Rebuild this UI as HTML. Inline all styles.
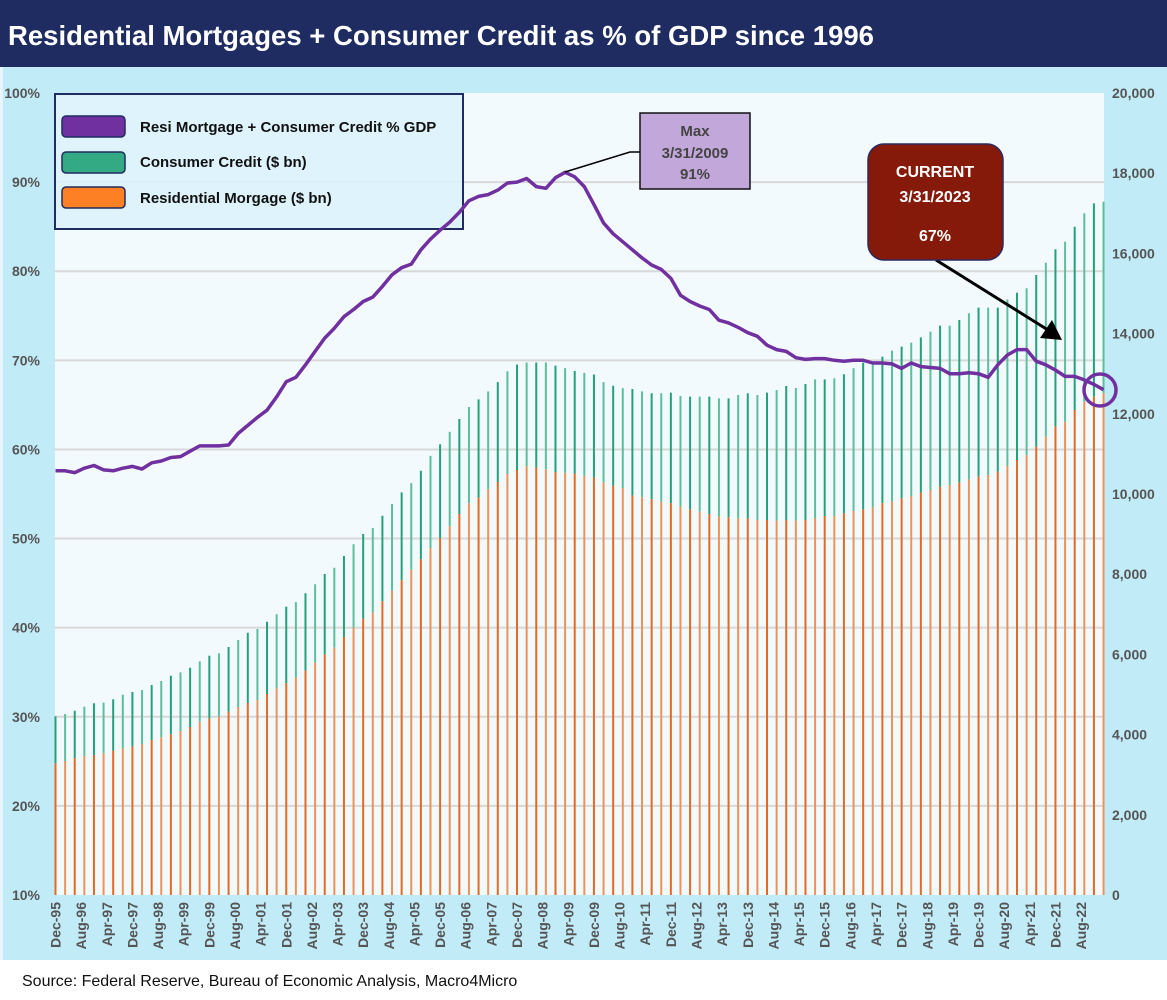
<!DOCTYPE html>
<html><head><meta charset="utf-8"><style>
html,body{margin:0;padding:0;width:1167px;height:1000px;overflow:hidden;background:#fff}
svg{display:block;font-family:"Liberation Sans",sans-serif}
</style></head><body>
<svg id="chart" width="1167" height="1000" viewBox="0 0 1167 1000">
<rect x="0" y="0" width="1167" height="67" fill="#1f2c62"/>
<text x="8" y="45" fill="#fff" font-size="28" font-weight="bold" textLength="866" lengthAdjust="spacingAndGlyphs">Residential Mortgages + Consumer Credit as % of GDP since 1996</text>
<rect x="0" y="67" width="1167" height="893" fill="#c2ebf8"/>
<rect x="0" y="67" width="3" height="893" fill="#e6f6fc"/>
<rect x="55" y="93" width="1049" height="802" fill="#f3fafe"/>
<g id="grid"></g>
<g id="bars"></g>
<g id="yleft"></g>
<g id="yright"></g>
<g id="xaxis"></g>
<g id="legend">
  <rect x="55" y="94" width="408" height="135" fill="#dbf2fb" fill-opacity="0.9" stroke="#1f2c62" stroke-width="2"/>
  <rect x="62" y="116" width="63" height="21" rx="4" fill="#7030a0" stroke="#1f2c62" stroke-width="1.5"/>
  <text x="140" y="132" font-size="15" font-weight="bold" fill="#111">Resi Mortgage + Consumer Credit % GDP</text>
  <rect x="62" y="152" width="63" height="21" rx="4" fill="#34aa84" stroke="#1f2c62" stroke-width="1.5"/>
  <text x="140" y="167" font-size="15" font-weight="bold" fill="#111">Consumer Credit ($ bn)</text>
  <rect x="62" y="187" width="63" height="21" rx="4" fill="#fd8024" stroke="#1f2c62" stroke-width="1.5"/>
  <text x="140" y="203" font-size="15" font-weight="bold" fill="#111">Residential Morgage ($ bn)</text>
</g>
<path id="line" fill="none" stroke="#7030a0" stroke-width="3.5" stroke-linejoin="round"/>
<g>
  <polyline points="565,172 630,152 640,152" fill="none" stroke="#000" stroke-width="1.5"/>
  <rect x="640" y="113" width="110" height="76" fill="#c2a7da" stroke="#111" stroke-width="1.5"/>
  <text x="695" y="136" text-anchor="middle" font-size="15" font-weight="bold" fill="#444">Max</text>
  <text x="695" y="158" text-anchor="middle" font-size="15" font-weight="bold" fill="#444">3/31/2009</text>
  <text x="695" y="179" text-anchor="middle" font-size="15" font-weight="bold" fill="#444">91%</text>
</g>
<g>
  <line x1="936" y1="260" x2="1048" y2="330" stroke="#000" stroke-width="3"/>
  <polygon points="1062,340 1040,338 1052,320" fill="#000"/>
  <rect x="868" y="144" width="135" height="116" rx="16" fill="#861a0a" stroke="#2a2a5e" stroke-width="1.5"/>
  <text x="935" y="177" text-anchor="middle" font-size="16" font-weight="bold" fill="#fff">CURRENT</text>
  <text x="935" y="202" text-anchor="middle" font-size="16" font-weight="bold" fill="#fff">3/31/2023</text>
  <text x="935" y="241" text-anchor="middle" font-size="16" font-weight="bold" fill="#fff">67%</text>
  <circle cx="1100" cy="390" r="16" fill="none" stroke="#7030a0" stroke-width="3.5"/>
</g>
<text x="22" y="986" font-size="16" fill="#111">Source: Federal Reserve, Bureau of Economic Analysis, Macro4Micro</text>
</svg>
<script>
const ratioPct = [57.6,57.6,57.4,57.9,58.2,57.7,57.6,57.9,58.1,57.8,58.5,58.7,59.1,59.2,59.8,60.4,60.4,60.4,60.5,61.8,62.7,63.6,64.4,65.9,67.6,68.1,69.5,71.0,72.5,73.6,74.9,75.7,76.6,77.1,78.3,79.6,80.4,80.8,82.4,83.6,84.6,85.5,86.6,87.9,88.4,88.6,89.1,89.9,90.0,90.4,89.5,89.3,90.5,91.1,90.6,89.5,87.5,85.4,84.2,83.3,82.4,81.5,
80.7,80.2,79.2,77.3,76.6,76.1,75.7,74.5,74.2,73.7,73.1,72.7,71.7,71.2,71.0,70.3,70.1,70.2,70.2,70.0,69.9,70.0,70.0,69.7,69.7,69.6,69.1,69.7,69.3,69.2,69.1,68.5,68.5,68.6,68.5,68.1,69.5,70.6,71.2,71.2,69.9,69.5,68.9,68.2,68.2,67.8,67.3,66.7];
const totalDebt = [4456,4514,4596,4696,4780,4796,4880,4995,5062,5112,5237,5337,5469,5553,5668,5828,5968,6027,6185,6359,6541,6633,6815,7000,7190,7307,7524,7748,8005,8162,8454,8746,9002,9152,9459,
9750,10040,10270,10580,10950,11240,11550,11870,12170,12360,12560,12790,13060,13230,13280,13280,13280,13200,13140,13070,13020,12980,12790,12700,12640,12620,12560,
12511,12511,12527,12444,12427,12427,12427,12386,12386,12469,12511,12469,12527,12594,12693,12643,12743,12860,12860,12885,12985,13135,13275,13300,13425,13574,13674,13774,13907,14048,14198,14198,14339,14506,14647,14647,14647,14855,15020,15130,15461,15768,16102,16292,16666,17000,17249,17289];
const resiMortgage = [3284,3342,3409,3466,3491,3533,3599,3658,3699,3766,3865,3932,4007,4090,4190,4322,4397,4447,4572,4688,4788,4863,5012,5155,5279,5419,5594,5793,5993,6167,6434,6666,6891,7040,7324,
7590,7850,8110,8370,8650,8900,9200,9500,9770,9910,10120,10300,10500,10600,10680,10660,10620,10550,10530,10510,10450,10410,10280,10210,10150,9960,9920,
9868,9809,9768,9684,9618,9559,9501,9434,9418,9393,9393,9352,9352,9335,9352,9335,9352,9393,9451,9451,9518,9576,9618,9668,9768,9809,9892,9950,10033,10100,10183,10224,10283,10366,10432,10474,10557,10698,10848,10965,11180,11429,11679,11803,12095,12302,12427,12511];
const xLabels = ["Dec-95","Aug-96","Apr-97","Dec-97","Aug-98","Apr-99","Dec-99","Aug-00","Apr-01","Dec-01","Aug-02","Apr-03","Dec-03","Aug-04","Apr-05","Dec-05","Aug-06","Apr-07","Dec-07","Aug-08","Apr-09","Dec-09","Aug-10","Apr-11","Dec-11","Aug-12","Apr-13","Dec-13","Aug-14","Apr-15","Dec-15","Aug-16","Apr-17","Dec-17","Aug-18","Apr-19","Dec-19","Aug-20","Apr-21","Dec-21","Aug-22"];
const leftTicks = [10,20,30,40,50,60,70,80,90,100];
const rightTicks = [0,2000,4000,6000,8000,10000,12000,14000,16000,18000,20000];

const NS="http://www.w3.org/2000/svg";
const X0=55.5, QW=9.615;
function xq(q){return X0+q*QW;}
function xm(m){return X0+m*QW/3;}
function yL(p){return 895-(p-10)*(802/90);}
function yR(v){return 895-v*(802/20000);}
function mk(tag,attrs,parent){const e=document.createElementNS(NS,tag);for(const k in attrs)e.setAttribute(k,attrs[k]);parent.appendChild(e);return e;}

const grid=document.getElementById('grid');
leftTicks.forEach(function(p){
  if(p===10||p===100) return;
  const l=mk('line',{x1:55,x2:1104,y1:yL(p),y2:yL(p),stroke:'#d8d8d8','stroke-width':2},grid);
  
  
});

const bars=document.getElementById('bars');
totalDebt.forEach(function(t,i){
  const r=resiMortgage[i];
  const g=mk('line',{x1:xq(i),x2:xq(i),y1:yR(r),y2:yR(t),stroke:(i%2?'#5cbf9c':'#23a27a'),'stroke-width':2},bars);
  
  
  const o=mk('line',{x1:xq(i),x2:xq(i),y1:yR(0),y2:yR(r),stroke:(i%2?'#ec935a':'#e46a22'),'stroke-width':2},bars);
  
  
});

const yl=document.getElementById('yleft');
leftTicks.forEach(function(p){
  const t=mk('text',{x:40,y:yL(p)+5,'text-anchor':'end','font-size':14,'font-weight':'bold',fill:'#555'},yl);
  t.textContent=p+'%';
  
  
});
const yr=document.getElementById('yright');
rightTicks.forEach(function(v){
  const t=mk('text',{x:1112,y:yR(v)+5,'font-size':14,'font-weight':'bold',fill:'#555'},yr);
  t.textContent=v.toLocaleString('en-US');
  
  
});
const xa=document.getElementById('xaxis');
xLabels.forEach(function(s,i){
  const x=xm(i*8)+5;
  const t=mk('text',{x:x,y:902,'text-anchor':'end','font-size':14,'font-weight':'bold',fill:'#555',transform:'rotate(-90 '+x+' 902)'},xa);
  t.textContent=s;
  
  
});

let d='';
ratioPct.forEach(function(p,i){d+=(i?'L':'M')+xq(i).toFixed(1)+' '+yL(p).toFixed(1);});
document.getElementById('line').setAttribute('d',d);
</script>
</body></html>
